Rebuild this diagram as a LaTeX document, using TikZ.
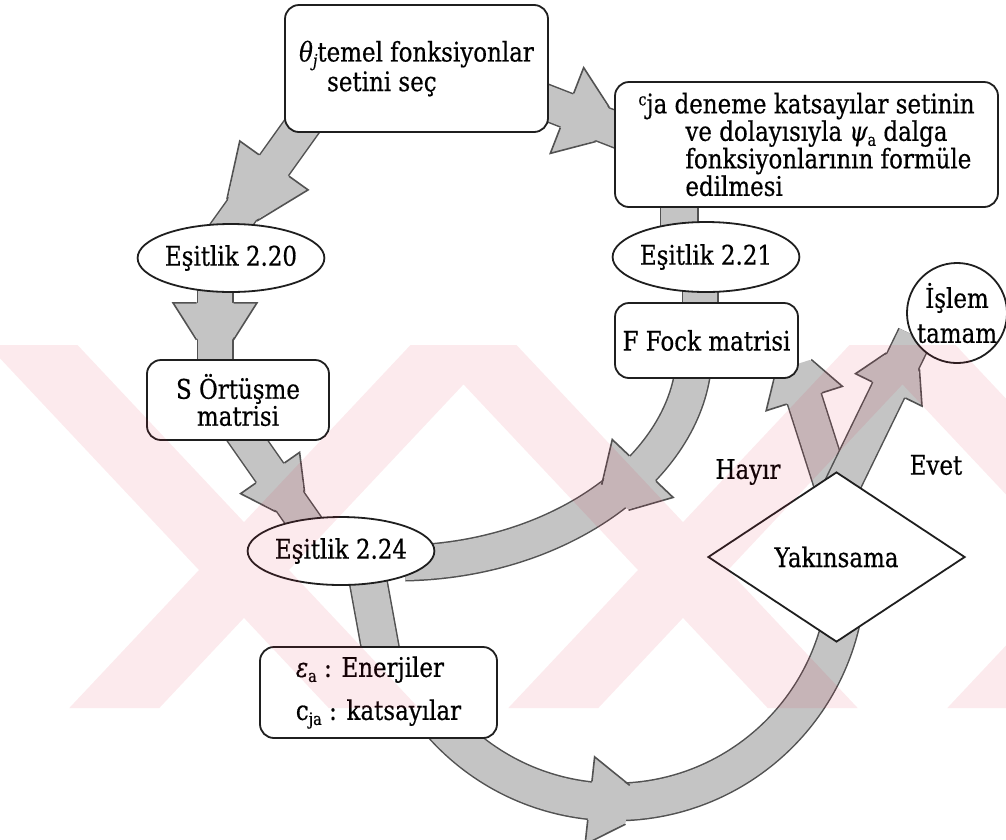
\documentclass[tikz,border=0pt]{standalone}
\usepackage{fontspec}
\setmainfont{DejaVu Serif}[FakeStretch=0.85,FakeBold=0.5]
\usetikzlibrary{shapes.geometric,decorations.markings}
\pgfdeclarelayer{bg}
\pgfdeclarelayer{fg}
\pgfsetlayers{bg,main,fg}
\definecolor{bandgray}{gray}{0.77}
\definecolor{bandedge}{gray}{0.32}
\definecolor{nodeedge}{gray}{0.12}
\definecolor{wmpink}{RGB}{225,25,60}
\newcommand\subt[1]{\raisebox{-5pt}{\fontsize{17}{17}\selectfont #1}}
\newcommand\collar[3]{%
  \fill[bandgray] (0,#1/2) -- (0,#2) -- (#3,#1/2) -- (#3,-#1/2) -- (0,-#2) -- (0,-#1/2) -- cycle;
  \draw[bandedge,line width=1.6pt,line join=miter] (0,#1/2+1.5) -- (0,#2) -- (#3,#1/2+1.5);
  \draw[bandedge,line width=1.6pt,line join=miter] (0,-#1/2-1.5) -- (0,-#2) -- (#3,-#1/2-1.5);}
\newcommand\band[5]{%
  \draw[bandedge,line width=#1pt+3pt] #5;
  \draw[bandgray,line width=#1pt,postaction={decorate,decoration={markings,mark=at position #2 with {\collar{#1}{#3}{#4}}}}] #5;}
\newcommand\plainband[2]{%
  \draw[bandedge,line width=#1pt+3pt] #2;
  \draw[bandgray,line width=#1pt] #2;}
\tikzset{
  txt/.style={font=\fontsize{27}{27}\selectfont, inner sep=0pt, text=black},
  rbox/.style={txt, draw=nodeedge, line width=1.8pt, fill=white, rounded corners=14pt, align=center},
  oval/.style={txt, ellipse, draw=nodeedge, line width=1.8pt, fill=white},
  circ/.style={txt, circle, draw=nodeedge, line width=1.8pt, fill=white, align=center},
  dia/.style={txt, diamond, draw=nodeedge, line width=1.8pt, fill=white},
}
\begin{document}
\begin{tikzpicture}[x=1pt,y=-1pt]
\useasboundingbox (0,0) rectangle (1006,839);
\begin{pgfonlayer}{bg}
\fill[white] (0,0) rectangle (1006,839);
\end{pgfonlayer}

% ---- nodes ----
\node[rbox, align=left, minimum width=263pt, minimum height=127pt] (top) at (416.5,68.5)
  {{\itshape θ}\subt{\itshape j}temel fonksiyonlar\\\hspace*{28pt}setini seç};
\node[rbox, align=left, minimum width=383pt, minimum height=125pt, font=\fontsize{27}{27.5}\selectfont] (cja) at (806.5,144.5)
  {\raisebox{8pt}{\fontsize{17}{17}\selectfont c}ja deneme katsayılar setinin\\
   \hspace*{47pt}ve dolayısıyla {\itshape ψ}\subt{a} dalga\\
   \hspace*{47pt}fonksiyonlarının formüle\\
   \hspace*{47pt}edilmesi};
\node[oval, minimum width=162pt, minimum height=68pt] (eq20) at (231,258) {Eşitlik 2.20};
\node[oval, minimum width=168pt, minimum height=70pt] (eq21) at (706,257) {Eşitlik 2.21};
\node[rbox, minimum width=182pt, minimum height=80pt] (sbox) at (238,400) {S Örtüşme\\matrisi};
\node[rbox, minimum width=183pt, minimum height=75pt] (fbox) at (706.5,340.5) {F Fock matrisi};
\node[circ, minimum size=98pt] (done) at (957,313) {İşlem\\[8pt]tamam};
\node[oval, minimum width=164pt, minimum height=68pt] (eq24) at (341,551) {Eşitlik 2.24};
\node[dia, minimum width=257pt, minimum height=170pt] (conv) at (836.5,557) {Yakınsama};
\node[rbox, align=left, minimum width=237pt, minimum height=91pt] (ebox) at (378.5,692.5)
  {{\itshape ε}\subt{a} : Enerjiler\\[16pt]c\subt{ja} : katsayılar};
\node[txt] (hayir) at (748,472) {Hayır};
\node[txt] (evet) at (936,465) {Evet};

% ---- block arrows (behind the nodes) ----
\begin{pgfonlayer}{bg}
\band{34}{0.41}{42}{55}{([shift={(-106.5,46.5)}]top.center) -- ([shift={(-9,-20)}]eq20.center)}
\band{34}{0.24}{42}{37}{([shift={(-16,22)}]eq20.center) -- ([shift={(-23,-25)}]sbox.center)}
\band{32}{0.43}{36}{35}{([shift={(2,30)}]sbox.center) -- ([shift={(-31,-21)}]eq24.center)}
\band{34}{0.3}{46}{38}{([shift={(123.5,31.5)}]top.center) -- ([shift={(-176.5,-9.5)}]cja.center)}
\plainband{36}{([shift={(-127.5,50.5)}]cja.center) -- ([shift={(-27,-17)}]eq21.center)}
\plainband{34}{([shift={(-6,28)}]eq21.center) -- ([shift={(-6.5,-25.5)}]fbox.center)}
\band{34}{0.3}{42}{40}{([shift={(-13.5,29.5)}]fbox.center) .. controls (680,470) and (560,560) .. ([shift={(64,12)}]eq24.center)}
\plainband{36}{([shift={(26,24)}]eq24.center) -- ([shift={(4,-32.5)}]ebox.center)}
\band{36}{0.342}{44}{38}{([shift={(58.8,26.6)}]ebox.center) arc[start angle=-140,end angle=-12,radius=232pt]}
\band{34}{0.75}{40}{35}{([shift={(-3,-67)}]conv.center) -- ([shift={(88,27.5)}]fbox.center)}
\band{34}{0.65}{37}{32}{([shift={(3.5,-67)}]conv.center) -- ([shift={(-42,23)}]done.center)}
\end{pgfonlayer}

% ---- watermark ----
\begin{pgfonlayer}{fg}
\begin{scope}
\clip (0,345) rectangle (1006,708);
\fill[wmpink, fill opacity=0.09]
  (-12.5,345) -- (77.5,345) -- (418.7,708) -- (328.7,708) -- cycle
  (410.5,345) -- (500.5,345) -- (159.3,708) -- (69.3,708) -- cycle
  (426.5,345) -- (516.5,345) -- (857.7,708) -- (767.7,708) -- cycle
  (849.5,345) -- (939.5,345) -- (598.3,708) -- (508.3,708) -- cycle
  (865.5,345) -- (955.5,345) -- (1296.7,708) -- (1206.7,708) -- cycle
  (1288.5,345) -- (1378.5,345) -- (1037.3,708) -- (947.3,708) -- cycle;
\end{scope}
\end{pgfonlayer}
\end{tikzpicture}
\end{document}
